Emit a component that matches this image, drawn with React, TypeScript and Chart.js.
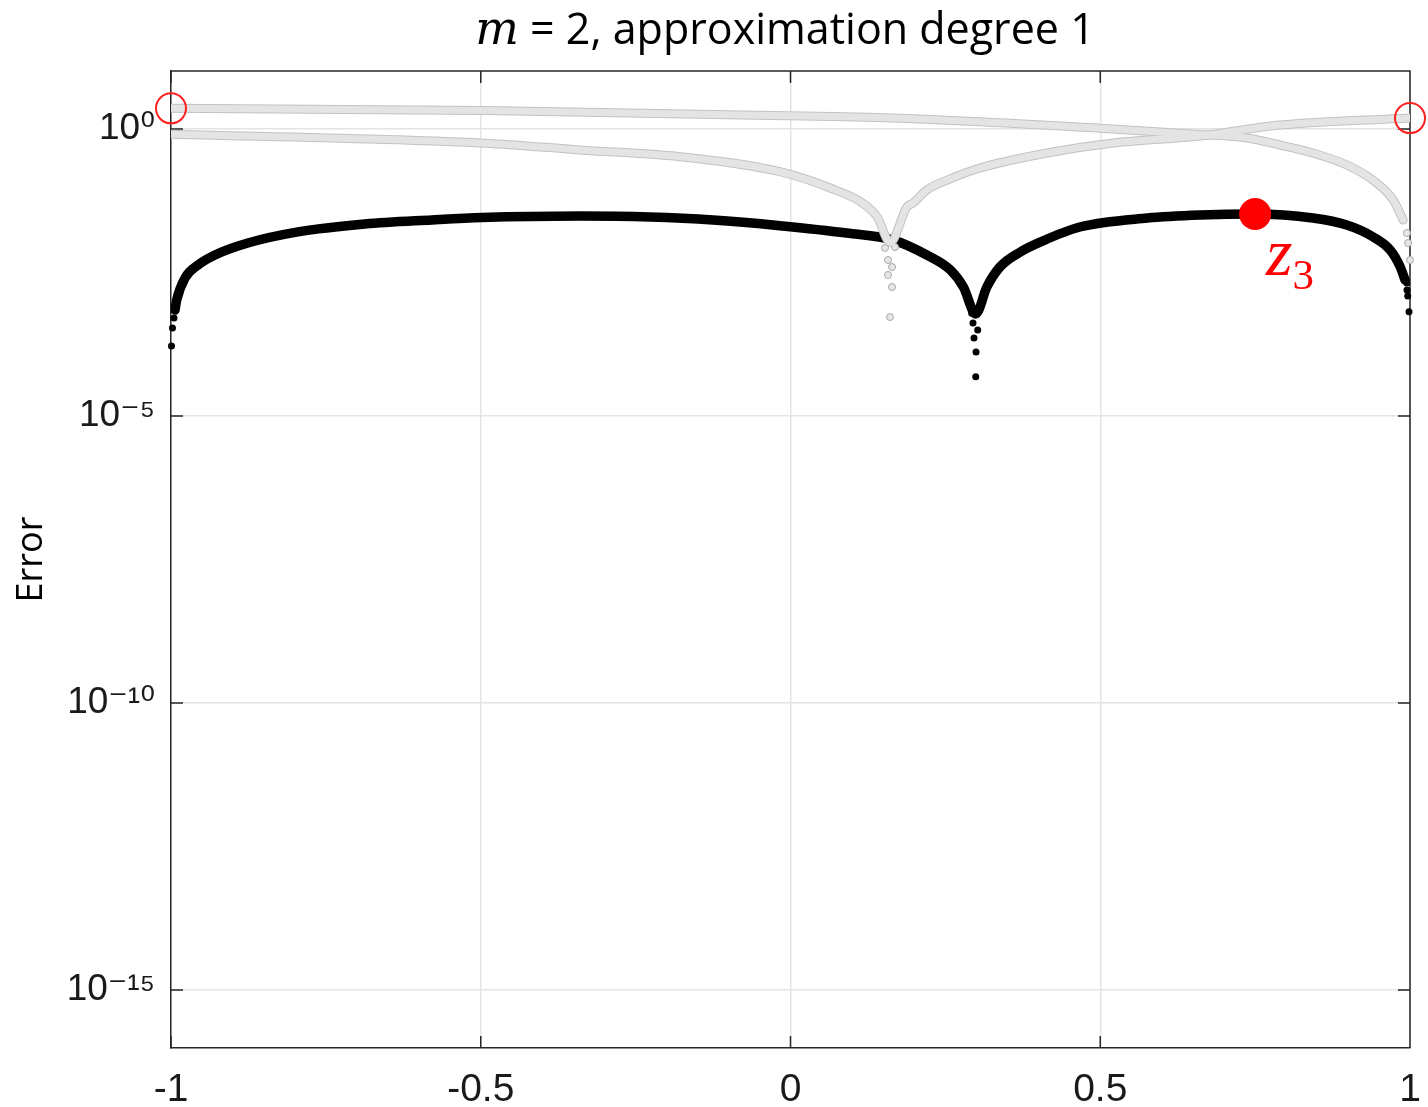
import React, { useEffect, useRef } from 'react';
import { Chart, registerables } from 'chart.js';

Chart.register(...registerables);

// ---- tick values / labels ----
const xTickValues = [-1, -0.5, 0, 0.5, 1];
const xTickLabels = ['-1', '-0.5', '0', '0.5', '1'];
const yTickValues = [1, 1e-5, 1e-10, 1e-15];
const yTickLabels = ['10⁰', '10⁻⁵', '10⁻¹⁰', '10⁻¹⁵'];

// ---- black curve: error of the degree-1 approximation ----
const blackX = [
  -0.9935, -0.9908, -0.9774, -0.9564, -0.929, -0.876, -0.795, -0.687, -0.579, -0.498,
  -0.34, -0.227, -0.125, -0.017, 0.091, 0.166, 0.22, 0.258, 0.279, 0.299,
  0.317, 0.338, 0.371, 0.403, 0.467, 0.576, 0.661, 0.75, 0.843,
  0.898, 0.94, 0.968, 0.984, 0.992,
];
const blackY = [
  7.0e-4, 1.05e-3, 2.54e-3, 4.27e-3, 6.38e-3, 1.03e-2, 1.61e-2, 2.21e-2, 2.6e-2, 2.87e-2,
  3.05e-2, 2.93e-2, 2.6e-2, 2.07e-2, 1.54e-2, 1.16e-2, 6.38e-3, 3.5e-3, 1.77e-3, 6.0e-4,
  1.77e-3, 3.94e-3, 7.2e-3, 1.07e-2, 1.96e-2, 2.81e-2, 3.17e-2, 3.3e-2, 2.81e-2,
  2.13e-2, 1.33e-2, 7.8e-3, 4.0e-3, 2.34e-3,
];
const blackDotX = [-0.9992, -0.9976, -0.9952, 0.2925, 0.2946, 0.3022, 0.2962, 0.2995, 0.299, 0.9947, 0.9952, 0.9963, 0.9984];
const blackDotY = [1.66e-4, 3.41e-4, 5.1e-4, 6.15e-4, 4.17e-4, 3.15e-4, 2.29e-4, 1.3e-4, 4.84e-5, 2.07e-3, 1.57e-3, 1.23e-3, 6.56e-4];

// ---- gray curve A (starts high at -1, drops at +1) ----
const grayAX = [-1, -0.493, -0.001, 0.177, 0.5, 0.661, 0.737, 0.79, 0.843, 0.898, 0.94, 0.973, 0.989];
const grayAY = [2.29, 2.1, 1.7, 1.54, 1.03, 0.8, 0.697, 0.526, 0.382, 0.236, 0.129, 0.058, 0.026];
const grayADotX = [0.995, 0.997, 1.0];
const grayADotY = [0.0154, 0.0103, 5.2e-3];

// ---- gray curve B (dips near 0.16, rises to +1) ----
const grayBX = [
  -1, -0.493, -0.34, -0.178, -0.017, 0.064, 0.116, 0.14, 0.161,
  0.188, 0.198, 0.22, 0.253, 0.306, 0.414, 0.521, 0.661, 0.79, 1.0,
];
const grayBY = [
  0.809, 0.566, 0.431, 0.329, 0.18, 0.0937, 0.0514, 0.0293, 0.0105,
  0.0438, 0.0514, 0.0865, 0.129, 0.209, 0.382, 0.57, 0.755, 1.17, 1.55,
];
const grayBDotX = [0.1526, 0.1574, 0.1639, 0.1574, 0.1639, 0.1606, 0.1687];
const grayBDotY = [8.45e-3, 5.22e-3, 3.94e-3, 2.86e-3, 1.77e-3, 5.3e-4, 8.8e-3];

// ---- red markers ----
const endpointX = [-1, 1];
const endpointY = [2.29, 1.55];
const z3X = [0.75];
const z3Y = [0.033];

const pts = (xs: number[], ys: number[]) => xs.map((x, i) => ({ x, y: ys[i] }));

const AXIS = '#262626';
const GRID = '#e4e4e4';
const TICK_FONT = "'Liberation Sans', 'DejaVu Sans', Arial, sans-serif";

const framePlugin = {
  id: 'frame',
  beforeDatasetsDraw(chart: any) {
    const { ctx, chartArea, scales } = chart;
    const { left, right, top, bottom } = chartArea;
    const tl = 12;
    ctx.save();
    ctx.strokeStyle = AXIS;
    ctx.lineWidth = 1.5;
    ctx.beginPath();
    ctx.moveTo(left, top);
    ctx.lineTo(right, top);
    ctx.lineTo(right, bottom);
    xTickValues.forEach((v) => {
      const px = scales.x.getPixelForValue(v);
      ctx.moveTo(px, bottom);
      ctx.lineTo(px, bottom - tl);
      ctx.moveTo(px, top);
      ctx.lineTo(px, top + tl);
    });
    yTickValues.forEach((v) => {
      const py = scales.y.getPixelForValue(v);
      ctx.moveTo(left, py);
      ctx.lineTo(left + tl, py);
      ctx.moveTo(right, py);
      ctx.lineTo(right - tl, py);
    });
    ctx.stroke();
    ctx.restore();
  },
};

export default function App() {
  const canvasRef = useRef<HTMLCanvasElement | null>(null);

  useEffect(() => {
    const canvas = canvasRef.current;
    if (!canvas) return;
    const lineBase = {
      showLine: true,
      pointRadius: 0,
      cubicInterpolationMode: 'monotone' as const,
      borderCapStyle: 'round' as const,
      borderJoinStyle: 'round' as const,
    };
    const chart = new Chart(canvas, {
      type: 'scatter',
      data: {
        datasets: [
          {
            data: pts(endpointX, endpointY),
            order: 0,
            pointRadius: 15,
            pointBorderWidth: 2,
            pointBorderColor: '#ff2020',
            pointBackgroundColor: 'rgba(0,0,0,0)',
            showLine: false,
            clip: false,
          } as any,
          {
            data: pts(z3X, z3Y),
            order: 1,
            pointRadius: 16,
            pointBorderWidth: 0,
            pointBackgroundColor: '#ff0000',
            showLine: false,
            clip: false,
          } as any,
          {
            ...lineBase,
            data: pts(grayAX, grayAY),
            order: 2,
            borderColor: '#e4e4e4',
            borderWidth: 7,
          } as any,
          {
            ...lineBase,
            data: pts(grayBX, grayBY),
            order: 3,
            borderColor: '#e4e4e4',
            borderWidth: 7,
          } as any,
          {
            data: pts(grayADotX.concat(grayBDotX), grayADotY.concat(grayBDotY)),
            order: 4,
            pointRadius: 3.5,
            pointBorderWidth: 1,
            pointBorderColor: '#a8a8a8',
            pointBackgroundColor: '#e6e6e6',
            showLine: false,
            clip: false,
          } as any,
          {
            ...lineBase,
            data: pts(grayAX, grayAY),
            order: 5,
            borderColor: '#c2c2c2',
            borderWidth: 9,
          } as any,
          {
            ...lineBase,
            data: pts(grayBX, grayBY),
            order: 6,
            borderColor: '#c2c2c2',
            borderWidth: 9,
          } as any,
          {
            ...lineBase,
            data: pts(blackX, blackY),
            order: 7,
            borderColor: '#000000',
            borderWidth: 9.5,
          } as any,
          {
            data: pts(blackDotX, blackDotY),
            order: 8,
            pointRadius: 3.5,
            pointBorderWidth: 0,
            pointBackgroundColor: '#000000',
            showLine: false,
            clip: false,
          } as any,
        ],
      },
      options: {
        responsive: false,
        animation: false,
        devicePixelRatio: 1,
        layout: { padding: { top: 71, right: 18, bottom: 0, left: 0 } },
        plugins: {
          legend: { display: false },
          tooltip: { enabled: false },
        },
        scales: {
          x: {
            type: 'linear',
            min: -1,
            max: 1,
            afterBuildTicks: (scale: any) => {
              scale.ticks = xTickValues.map((v) => ({ value: v }));
            },
            afterFit: (scale: any) => {
              scale.height = 59;
              scale.paddingLeft = 0;
              scale.paddingRight = 0;
            },
            ticks: {
              callback: (value: any) => {
                const i = xTickValues.indexOf(Number(value));
                return i >= 0 ? xTickLabels[i] : '';
              },
              font: { family: TICK_FONT, size: 39 },
              color: '#1a1a1a',
              padding: 19,
              maxRotation: 0,
              autoSkip: false,
            },
            grid: { color: GRID, lineWidth: 1.5, drawTicks: false },
            border: { display: true, color: AXIS, width: 1.5 },
          },
          y: {
            type: 'logarithmic',
            min: 9.76e-17,
            max: 10.24,
            afterBuildTicks: (scale: any) => {
              scale.ticks = yTickValues.map((v) => ({ value: v }));
            },
            afterFit: (scale: any) => {
              scale.width = 171;
              scale.paddingTop = 0;
              scale.paddingBottom = 0;
            },
            ticks: {
              callback: (value: any) => {
                const i = yTickValues.indexOf(Number(value));
                return i >= 0 ? yTickLabels[i] : '';
              },
              font: { family: TICK_FONT, size: 37 },
              color: '#1a1a1a',
              padding: 16,
              autoSkip: false,
            },
            grid: { color: GRID, lineWidth: 1.5, drawTicks: false },
            border: { display: true, color: AXIS, width: 1.5 },
            title: {
              display: true,
              text: 'Error',
              font: { family: "'Open Sans', sans-serif", size: 36 },
              color: '#000000',
              padding: { top: 10, bottom: 0 },
            },
          },
        },
      },
      plugins: [framePlugin],
    });
    return () => chart.destroy();
  }, []);

  return (
    <div style={{ position: 'absolute', left: 0, top: 0, width: 1428, height: 1107, background: '#ffffff', overflow: 'hidden' }}>
      <canvas ref={canvasRef} width={1428} height={1107} style={{ display: 'block' }} />
      <div
        style={{
          position: 'absolute',
          left: 785,
          top: 3,
          transform: 'translateX(-50%)',
          whiteSpace: 'nowrap',
          fontFamily: "'Open Sans', sans-serif",
          fontSize: 43,
          lineHeight: '50px',
          color: '#000000',
        }}
      >
        <span style={{ fontFamily: "'DejaVu Serif', serif", fontStyle: 'italic', fontSize: 46 }}>m</span> = 2, approximation degree 1
      </div>
      <div
        style={{
          position: 'absolute',
          left: 1266,
          top: 218,
          whiteSpace: 'nowrap',
          fontFamily: "'Liberation Serif', serif",
          fontSize: 68,
          lineHeight: '68px',
          color: '#ff0000',
        }}
      >
        <span style={{ fontStyle: 'italic' }}>z</span>
        <span style={{ fontSize: 43, position: 'relative', top: 14 }}>3</span>
      </div>
    </div>
  );
}
